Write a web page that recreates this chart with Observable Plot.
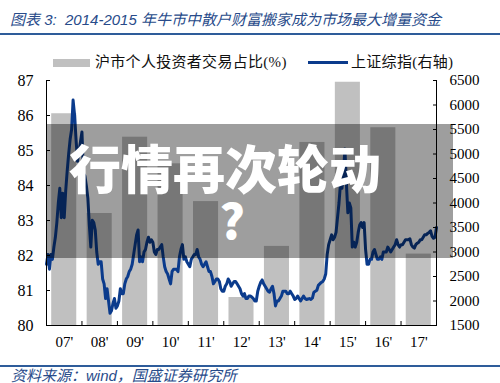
<!DOCTYPE html>
<html>
<head>
<meta charset="utf-8">
<script src="https://cdn.jsdelivr.net/npm/d3@7"></script>
<script src="https://cdn.jsdelivr.net/npm/@observablehq/plot@0.6"></script>
<style>
  html, body { margin: 0; padding: 0; background: #fff; }
  #wrap { position: relative; width: 500px; height: 383px; overflow: hidden; }
  #chart { position: absolute; left: 0; top: 0; }
  .hdr { position: absolute; font-family: "Liberation Sans", "Noto Sans CJK SC", sans-serif; font-style: italic; color: #284b8a; white-space: pre; }
  #title { left: 10px; top: 11px; font-size: 15px; line-height: 18px; }
  #source { left: 11px; top: 368px; font-size: 15px; line-height: 15px; }
  .rule { position: absolute; left: 0; width: 500px; height: 2px; background: #2e5c9a; }
  .leg { position: absolute; font-family: "Liberation Serif", "Noto Sans CJK SC", serif; font-size: 15px; line-height: 16px; color: #111; white-space: pre; letter-spacing: 0.3px; }
  .sw { position: absolute; }
  #overlay { position: absolute; left: 0; top: 0; }
</style>
</head>
<body>
<div id="wrap">
  <div id="chart"></div>
  <div id="title" class="hdr">图表 3:  2014-2015 年牛市中散户财富搬家成为市场最大增量资金</div>
  <div class="rule" style="top:33px"></div>
  <div class="sw" style="left:53px;top:59px;width:37px;height:8px;background:#c0c0c0"></div>
  <div class="leg" style="left:95px;top:54px">沪市个人投资者交易占比(%)</div>
  <div class="sw" style="left:308px;top:61px;width:40px;height:3px;background:#0b3b8c"></div>
  <div class="leg" style="left:351px;top:54px">上证综指(右轴)</div>
  <div class="rule" style="top:365px"></div>
  <div id="source" class="hdr">资料来源：wind，国盛证券研究所</div>
  <svg id="overlay" width="500" height="383">
    <rect x="46" y="124" width="407" height="134" fill="#000" fill-opacity="0.38"></rect>
    <text x="69" y="189" fill="#fff" font-family="Noto Sans CJK SC" font-weight="900" font-size="52">行情再次轮动</text>
    <text x="232" y="239" fill="#fff" font-family="Noto Sans CJK SC" font-weight="900" font-size="48" text-anchor="middle">?</text>
  </svg>
</div>
<script>
// Bars: Shanghai retail-investor share of trading (%), left axis
const years = [2007, 2008, 2009, 2010, 2011, 2012, 2013, 2014, 2015, 2016, 2017];
const yearLabels = ["07'", "08'", "09'", "10'", "11'", "12'", "13'", "14'", "15'", "16'", "17'"];
const retailShare = [86.05, 83.2, 85.38, 84.62, 83.54, 80.8, 82.26, 85.23, 86.95, 85.65, 82.04];

// Axis ticks
const leftTicks = [80, 81, 82, 83, 84, 85, 86, 87];
const rightTicks = [1500, 2000, 2500, 3000, 3500, 4000, 4500, 5000, 5500, 6000, 6500];

// Line: Shanghai Composite (right axis), semi-monthly readings starting Jan 2007
const sseStartYear = 2007;
const ssePerYear = 24;
const sseValues = [
  // 2007
  2750, 2950, 2650, 2950, 2850, 3100, 3300, 3600, 4000, 4300, 3700, 4200,
  3700, 4250, 4650, 5000, 5300, 5500, 6100, 5800, 5300, 4850, 5050, 5250,
  // 2008
  5450, 4600, 4550, 4350, 4100, 3550, 3100, 3650, 3600, 3450, 3000, 2750,
  2800, 2800, 2450, 2350, 2050, 2250, 2000, 1750, 1800, 1950, 2050, 1850,
  // 2009
  1900, 2000, 2250, 2150, 2150, 2350, 2450, 2500, 2600, 2650, 2750, 2950,
  3150, 3350, 3450, 2800, 2900, 2800, 3000, 3050, 3200, 3300, 3200, 3250,
  // 2010
  3200, 3000, 2950, 3050, 3050, 3100, 3150, 2900, 2700, 2600, 2550, 2450,
  2350, 2600, 2650, 2650, 2650, 2600, 2900, 3050, 3150, 2850, 2900, 2800,
  // 2011
  2750, 2700, 2850, 2900, 2950, 2950, 3050, 2900, 2850, 2750, 2700, 2750,
  2800, 2700, 2600, 2600, 2500, 2350, 2400, 2450, 2450, 2400, 2250, 2200,
  // 2012
  2200, 2300, 2350, 2450, 2400, 2300, 2350, 2400, 2400, 2350, 2300, 2250,
  2150, 2100, 2150, 2050, 2050, 2100, 2100, 2080, 2050, 2000, 2000, 2200,
  // 2013
  2300, 2380, 2430, 2350, 2300, 2250, 2200, 2180, 2250, 2300, 2150, 1900,
  2000, 2000, 2050, 2100, 2200, 2200, 2200, 2150, 2150, 2200, 2150, 2100,
  // 2014
  2030, 2050, 2100, 2050, 2000, 2050, 2100, 2050, 2030, 2040, 2050, 2030,
  2060, 2180, 2200, 2220, 2320, 2350, 2380, 2400, 2450, 2550, 2950, 3150,
  // 2015
  3250, 3350, 3250, 3300, 3400, 3700, 4000, 4400, 4300, 4600, 5100, 4400,
  3800, 4000, 3900, 3100, 3200, 3100, 3200, 3400, 3550, 3600, 3500, 3600,
  // 2016
  3050, 2750, 2750, 2850, 2850, 3000, 3050, 2950, 2850, 2850, 2900, 2850,
  3000, 3000, 3000, 3100, 3050, 3000, 3050, 3100, 3150, 3250, 3150, 3100,
  // 2017
  3150, 3150, 3200, 3250, 3250, 3250, 3270, 3150, 3100, 3080, 3150, 3180,
  3200, 3250, 3250, 3300, 3350, 3350, 3380, 3400, 3430, 3320, 3280, 3300,
  // 2018
  3500
];

const leftMin = leftTicks[0], leftMax = leftTicks[leftTicks.length - 1];
const rightMin = rightTicks[0], rightMax = rightTicks[rightTicks.length - 1];
const toLeft = v => leftMin + (v - rightMin) * (leftMax - leftMin) / (rightMax - rightMin);
const fromLeft = y => rightMin + (y - leftMin) * (rightMax - rightMin) / (leftMax - leftMin);

const bars = years.map((year, i) => ({year, share: retailShare[i]}));
const sse = sseValues.map((v, i) => ({t: sseStartYear + i / ssePerYear, v}));
const xEnd = years[years.length - 1] + 1;

const chart = Plot.plot({
  width: 500,
  height: 383,
  marginTop: 80,
  marginBottom: 58,
  marginLeft: 46,
  marginRight: 64,
  x: {type: "linear", domain: [years[0], xEnd]},
  y: {domain: [leftMin, leftMax]},
  style: {fontFamily: "Liberation Serif, serif", fontSize: "15px", color: "#000", background: "transparent"},
  marks: [
    Plot.rect(bars, {x1: "year", x2: d => d.year + 1, y1: leftMin, y2: "share", insetLeft: 5.2, insetRight: 5.2, fill: "#c0c0c0"}),
    Plot.line(sse, {x: "t", y: d => toLeft(d.v), stroke: "#0b3b8c", strokeWidth: 3, strokeLinejoin: "round"}),
    Plot.ruleX([years[0], xEnd], {stroke: "#000", strokeWidth: 1}),
    Plot.ruleY([leftMin], {stroke: "#000", strokeWidth: 1}),
    Plot.axisY(leftTicks, {anchor: "left", tickSize: -4, tickPadding: 17, fontSize: 16, label: null, tickFormat: d => String(d)}),
    Plot.axisY(rightTicks.map(toLeft), {anchor: "right", tickSize: -4, tickPadding: 17, fontSize: 15, label: null, tickFormat: d => String(Math.round(fromLeft(d)))}),
    Plot.axisX(years.concat([xEnd]), {anchor: "bottom", tickSize: -4, tickPadding: 0, label: null, tickFormat: () => ""}),
    Plot.axisX(years.map(y => y + 0.5), {anchor: "bottom", tickSize: 0, tickPadding: 11, fontSize: 15, label: null, tickFormat: d => yearLabels[years.indexOf(Math.floor(d))]})
  ]
});
document.getElementById("chart").appendChild(chart);
</script>
</body>
</html>
